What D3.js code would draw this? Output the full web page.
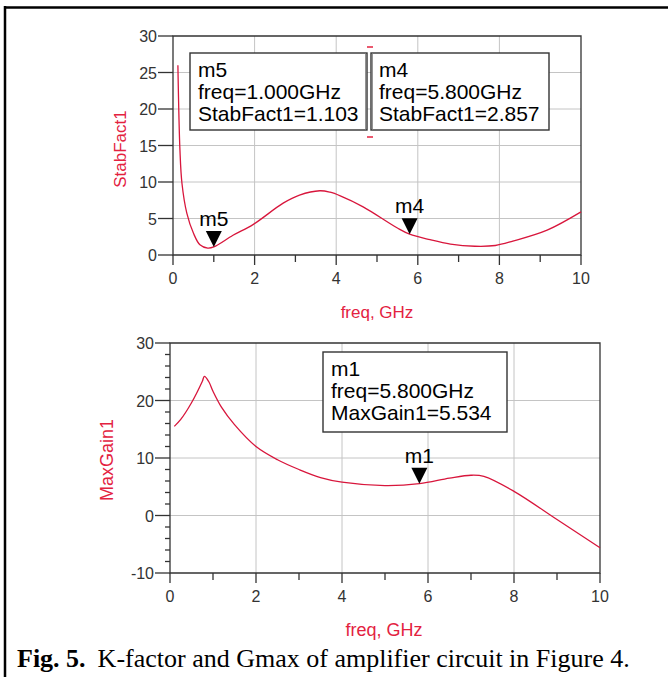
<!DOCTYPE html>
<meta charset="utf-8">
<head>
  <title>K-factor and Gmax</title>
  <style>
    body { margin: 0; background: #fff; }
    svg { display: block; }
    .tick-label { font: 16px "Liberation Sans Narrow", "Liberation Sans", Arial, sans-serif; fill: #333; }
    .red-label { font-family: "Liberation Sans", Arial, sans-serif; fill: #e3223f; }
    .marker-text { font: 21px "Liberation Sans", Arial, sans-serif; fill: #000; }
    .grid { stroke: #c4c4c4; stroke-width: 1; }
    .axis-line { stroke: #333; stroke-width: 1.3; fill: none; }
    .curve { fill: none; stroke: #d8163c; stroke-width: 1.3; }
  </style>
</head>
<body>
  <svg width="668" height="677"></svg>
  <script src="https://d3js.org/d3.v7.min.js"></script>
  <script>
    // stability factor K (top panel)
    var kFreq = [0.12, 0.17, 0.22, 0.34, 0.5, 0.66, 0.85, 1.0, 1.47, 1.97, 2.7, 3.1, 3.6, 3.85, 4.1, 4.66, 5.5, 5.8, 6.3, 6.8, 7.4, 7.9, 8.33, 9.17, 10];
    var kVal  = [26, 14.4, 9.8, 5.7, 3.0, 1.4, 0.95, 1.103, 2.7, 4.2, 7.1, 8.2, 8.8, 8.6, 8.1, 6.6, 3.7, 2.857, 2.1, 1.5, 1.2, 1.3, 1.9, 3.4, 5.9];

    // max gain (bottom panel)
    var gFreq = [0.1, 0.25, 0.5, 0.75, 0.8, 0.9, 1.0, 1.2, 1.5, 2, 2.5, 3, 3.5, 4, 5, 5.8, 6.5, 7, 7.3, 8, 9, 10];
    var gVal  = [15.5, 16.7, 19.6, 23.3, 24.2, 23.3, 21.6, 18.8, 15.8, 12.0, 9.7, 8.0, 6.6, 5.8, 5.2, 5.534, 6.5, 7.0, 6.8, 4.2, -0.7, -5.6];

    var xTicks = [0, 2, 4, 6, 8, 10];
    var kTicks = [0, 5, 10, 15, 20, 25, 30];
    var gTicks = [-10, 0, 10, 20, 30];

    var kMarkers = [{name: "m5", f: 1.0, v: 1.103}, {name: "m4", f: 5.8, v: 2.857}];
    var gMarkers = [{name: "m1", f: 5.8, v: 5.534}];

    var svg = d3.select("svg");

    // outer frame (top + left only)
    svg.append("line").attr("x1", 4).attr("x2", 668).attr("y1", 7.5).attr("y2", 7.5).attr("stroke", "#000").attr("stroke-width", 2.5);
    svg.append("line").attr("x1", 5).attr("x2", 5).attr("y1", 6).attr("y2", 677).attr("stroke", "#000").attr("stroke-width", 2.5);

    function panel(opt) {
      var x = d3.scaleLinear().domain([0, 10]).range([opt.left, opt.right]);
      var y = d3.scaleLinear().domain(opt.yDomain).range([opt.bottom, opt.top]);
      var g = svg.append("g");

      // grid
      g.selectAll(".gx").data(xTicks.slice(1, -1)).enter().append("line")
        .attr("class", "grid")
        .attr("x1", d => x(d)).attr("x2", d => x(d))
        .attr("y1", opt.top).attr("y2", opt.bottom);
      g.selectAll(".gy").data(opt.yTicks.slice(1, -1)).enter().append("line")
        .attr("class", "grid")
        .attr("x1", opt.left).attr("x2", opt.right)
        .attr("y1", d => y(d)).attr("y2", d => y(d));

      // box
      g.append("path").attr("class", "axis-line")
        .attr("d", "M" + opt.left + "," + opt.top + "H" + opt.right + "V" + opt.bottom + "H" + opt.left + "Z");

      // x ticks (outside, every 1 GHz)
      g.selectAll(".xt").data(d3.range(0, 11)).enter().append("line")
        .attr("class", "axis-line")
        .attr("x1", d => x(d)).attr("x2", d => x(d))
        .attr("y1", opt.bottom).attr("y2", d => opt.bottom + (d % 2 === 0 ? 10 : 7));
      g.selectAll(".xl").data(xTicks).enter().append("text")
        .attr("class", "tick-label")
        .attr("x", d => x(d)).attr("y", opt.bottom + 29)
        .attr("text-anchor", "middle")
        .text(d => d);

      // y ticks
      g.selectAll(".ytm").data(opt.yMinor).enter().append("line")
        .attr("class", "axis-line")
        .attr("x1", opt.left - 5).attr("x2", opt.left)
        .attr("y1", d => y(d)).attr("y2", d => y(d));
      g.selectAll(".yt").data(opt.yTicks).enter().append("line")
        .attr("class", "axis-line")
        .attr("x1", opt.left - 15).attr("x2", opt.left)
        .attr("y1", d => y(d)).attr("y2", d => y(d));
      g.selectAll(".yl").data(opt.yTicks).enter().append("text")
        .attr("class", "tick-label")
        .attr("x", opt.left - 16).attr("y", d => y(d) + 6)
        .attr("text-anchor", "end")
        .text(d => d);

      // axis titles
      g.append("text").attr("class", "red-label")
        .style("font-size", opt.xTitleSize + "px")
        .attr("x", opt.xTitleX).attr("y", opt.bottom + 63)
        .attr("text-anchor", "middle")
        .text("freq, GHz");
      g.append("text").attr("class", "red-label")
        .style("font-size", opt.yTitleSize + "px")
        .attr("transform", "translate(" + opt.yTitleX + "," + opt.yTitleY + ") rotate(-90)")
        .attr("text-anchor", "middle")
        .text(opt.yTitle);

      // curve
      var line = d3.line().x(d => x(d[0])).y(d => y(d[1])).curve(d3.curveCatmullRom.alpha(0.5));
      g.append("path").attr("class", "curve")
        .attr("d", line(d3.zip(opt.freq, opt.vals)));

      // marker triangles
      opt.markers.forEach(function(m) {
        var px = x(m.f), py = y(m.v);
        g.append("path").attr("fill", "#000")
          .attr("d", "M" + (px - 8) + "," + (py - 16) + "H" + (px + 8) + "L" + px + "," + py + "Z");
        g.append("text").attr("class", "marker-text")
          .attr("x", px).attr("y", py - 21)
          .attr("text-anchor", "middle")
          .text(m.name);
      });

      // marker readout boxes
      opt.boxes.forEach(function(b) {
        g.append("rect")
          .attr("x", b.x0).attr("y", b.y0)
          .attr("width", b.x1 - b.x0).attr("height", b.y1 - b.y0)
          .attr("fill", "#fff").attr("stroke", "#333").attr("stroke-width", 1.4);
        var m = b.m;
        var lines = [m.name, "freq=" + m.f.toFixed(3) + "GHz", opt.yTitle + "=" + m.v.toFixed(3)];
        lines.forEach(function(t, i) {
          g.append("text").attr("class", "marker-text")
            .attr("x", b.x0 + 8).attr("y", b.y0 + 24 + i * 22)
            .text(t);
        });
      });
      return g;
    }

    var topPanel = panel({
      left: 173, right: 581, top: 36, bottom: 255,
      yDomain: [0, 30], yTicks: kTicks, yMinor: [],
      freq: kFreq, vals: kVal, yTitle: "StabFact1",
      xTitleX: 377, xTitleSize: 17, yTitleX: 126, yTitleY: 149, yTitleSize: 17,
      markers: kMarkers,
      boxes: [{x0: 190, x1: 367, y0: 53, y1: 130, m: kMarkers[0]},
              {x0: 371, x1: 549, y0: 53, y1: 130, m: kMarkers[1]}]
    });
    // selection brackets between the two readouts
    topPanel.append("line").attr("x1", 365.5).attr("x2", 365.5).attr("y1", 53).attr("y2", 130).attr("stroke", "#777").attr("stroke-width", 0.8);
    topPanel.append("line").attr("x1", 372.5).attr("x2", 372.5).attr("y1", 53).attr("y2", 130).attr("stroke", "#777").attr("stroke-width", 0.8);
    topPanel.append("line").attr("x1", 367).attr("x2", 373).attr("y1", 47).attr("y2", 47).attr("stroke", "#e3223f").attr("stroke-width", 1.5);
    topPanel.append("line").attr("x1", 367).attr("x2", 373).attr("y1", 137).attr("y2", 137).attr("stroke", "#e3223f").attr("stroke-width", 1.5);

    var gMinor = d3.range(-10, 31, 2).filter(d => d % 10 !== 0);
    panel({
      left: 170, right: 600, top: 343, bottom: 573,
      yDomain: [-10, 30], yTicks: gTicks, yMinor: gMinor,
      freq: gFreq, vals: gVal, yTitle: "MaxGain1",
      xTitleX: 384, xTitleSize: 18, yTitleX: 113, yTitleY: 460, yTitleSize: 18,
      markers: gMarkers,
      boxes: [{x0: 323, x1: 507, y0: 352, y1: 432, m: gMarkers[0]}]
    });

    // caption
    var cap = svg.append("text")
      .attr("x", 17).attr("y", 667)
      .style("font-family", "'Liberation Serif', 'Times New Roman', serif")
      .style("font-size", "26px")
      .attr("fill", "#000");
    cap.append("tspan").style("font-weight", "bold").text("Fig. 5.");
    cap.append("tspan").attr("dx", 12).text("K-factor and Gmax of amplifier circuit in Figure 4.");
  </script>
</body>
</html>
